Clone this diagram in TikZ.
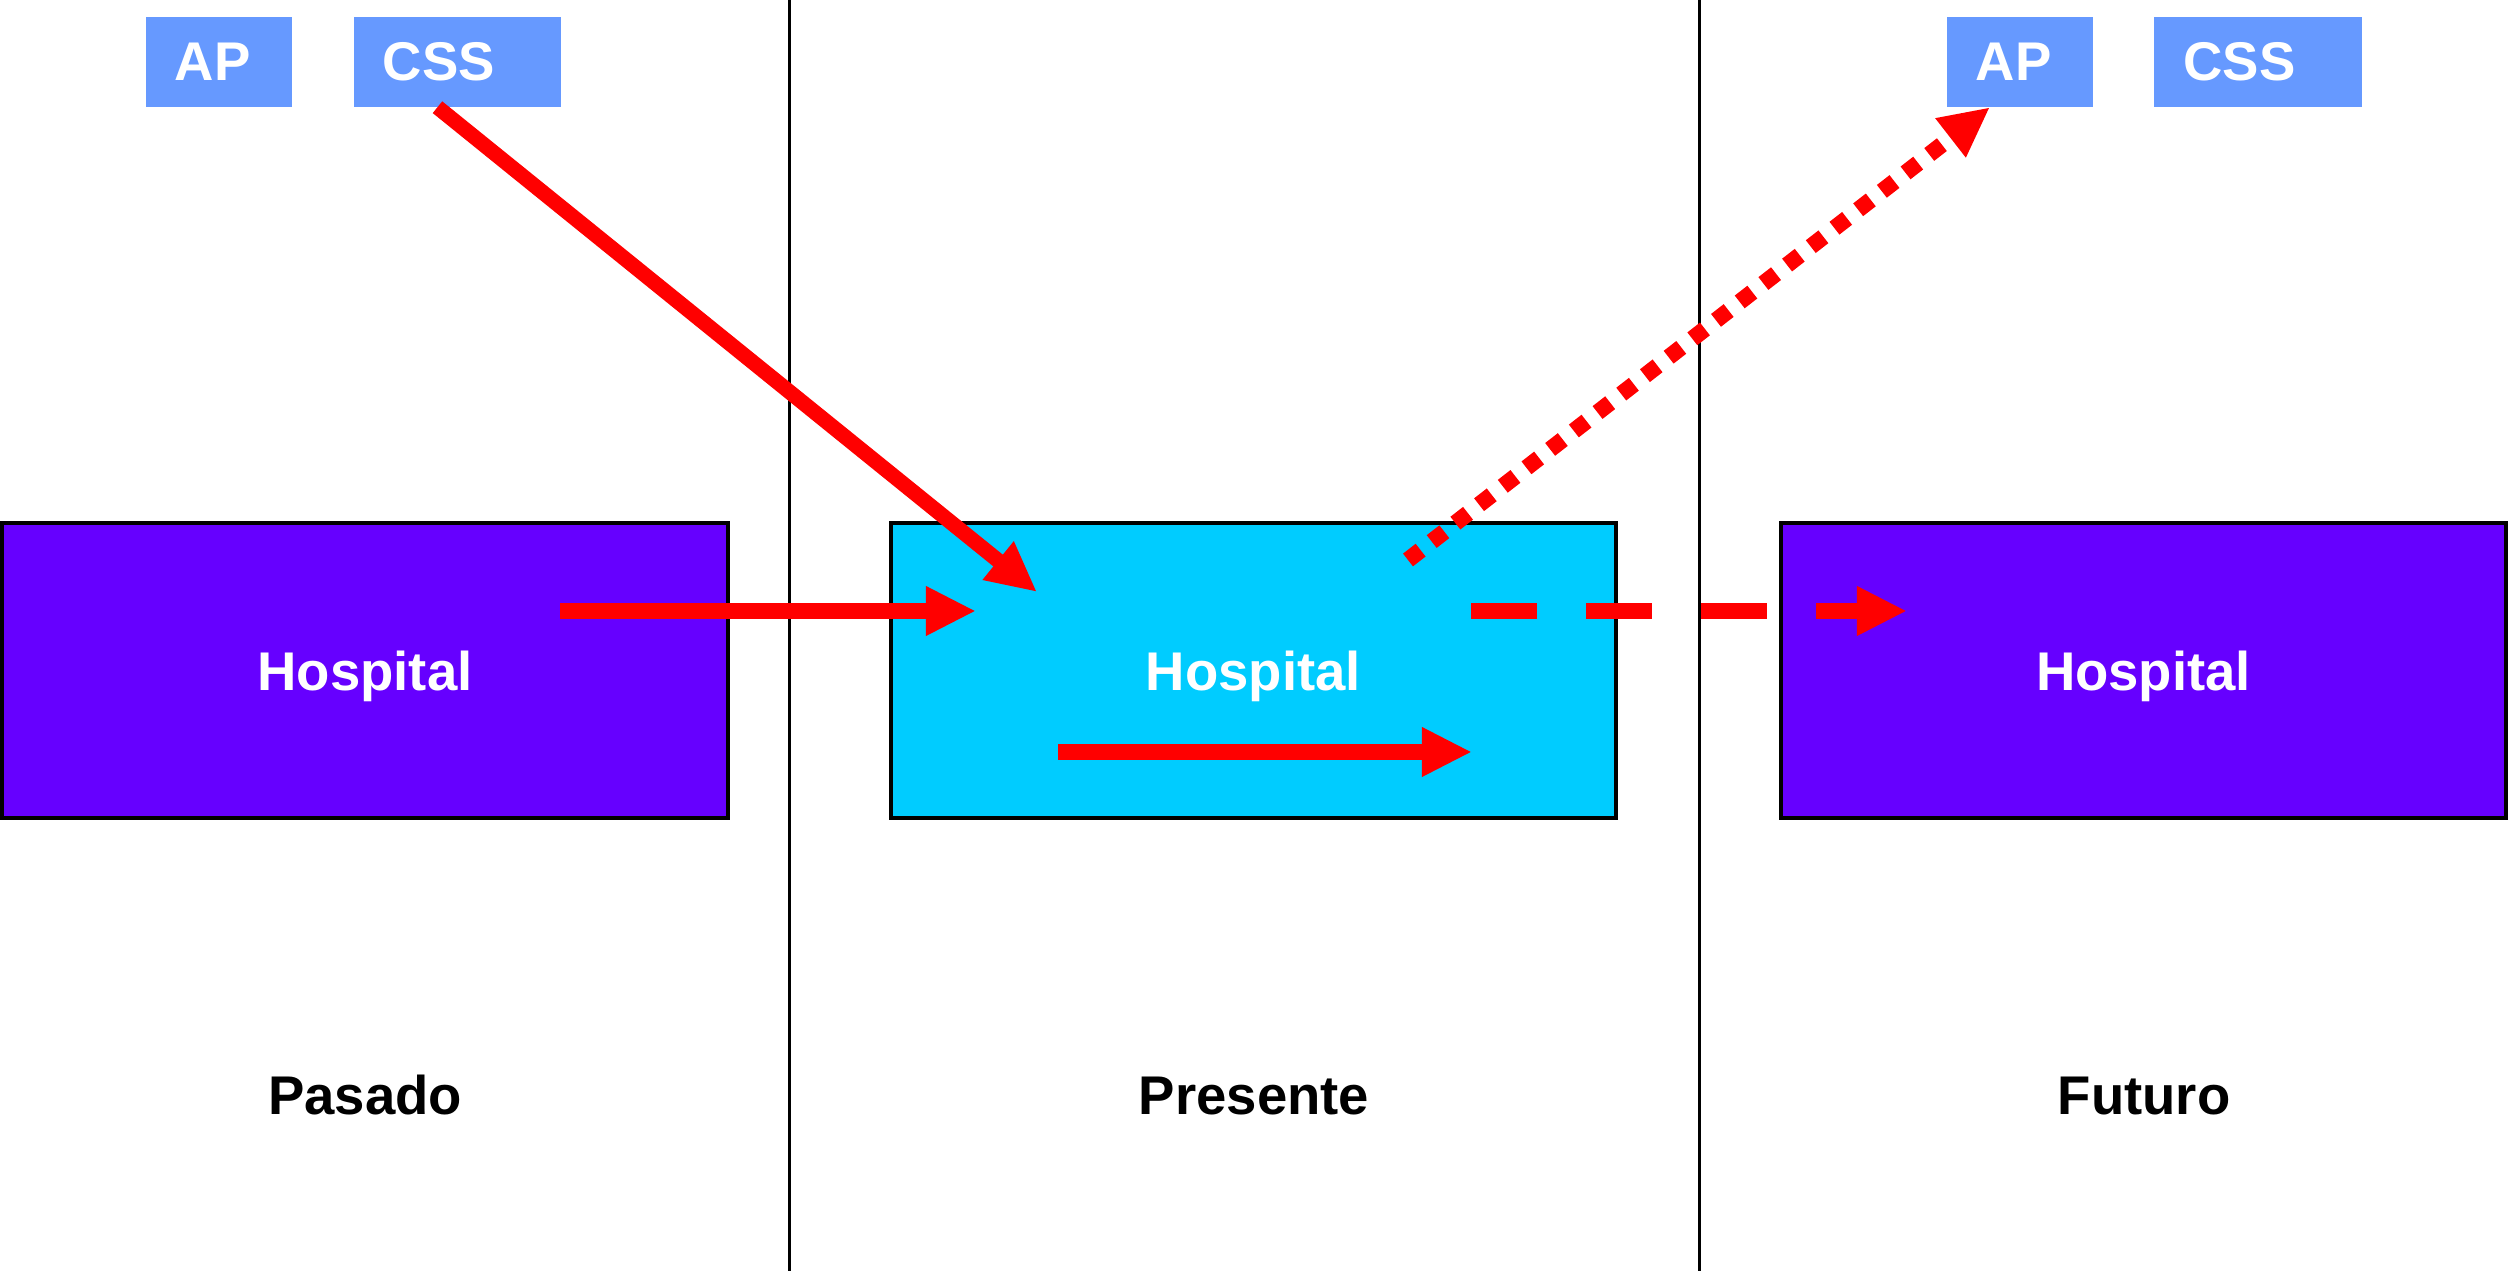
\documentclass[tikz,border=0pt]{standalone}
\usepackage{fontspec}
\setmainfont{Liberation Sans}
\usepackage{tikz}
\usetikzlibrary{arrows.meta}
\definecolor{HospPurple}{RGB}{102,0,255}
\definecolor{HospCyan}{RGB}{0,204,255}
\definecolor{TabBlue}{RGB}{102,153,255}
\definecolor{ArrowRed}{RGB}{255,0,0}
\newcommand\hospfont{\bfseries\fontsize{15.5pt}{18pt}\selectfont}

\begin{document}
\begin{tikzpicture}[x=0.01cm,y=-0.01cm,hosp/.style={fill=#1,draw=black,line width=1.1pt,minimum width=7.25cm,minimum height=2.95cm,text depth=0pt,text=white,font=\hospfont},tab/.style={fill=TabBlue,text=white,font=\hospfont,text width=#1,align=left,inner xsep=0.29cm,inner ysep=0pt,minimum height=0.89cm},period/.style={font=\hospfont,anchor=base},divider/.style={black,line width=0.85pt},flowarrow/.style={ArrowRed,line width=4.3pt,-{Triangle[length=0.5cm,width=0.46cm]}}]
\useasboundingbox (0,0) rectangle (2508,1271);
\draw[divider] (789,0) -- (789,1271);
\draw[divider] (1699,0) -- (1699,1271);
\foreach \n/\x/\c in %
{hospP/365/HospPurple,hospN/1253.5/HospCyan,hospF/2143.5/HospPurple} {
   \node[hosp=\c] (\n) at (\x,670.5) {Hospital};
}
\foreach \n/\x/\t in %
{lblP/365/Pasado,lblN/1254/Presente,lblF/2144/Futuro} {
   \node[period] (\n) at (\x,1115) {\t};
}
   \node[tab=0.88cm] (apP) at (219,62) {AP};
   \node[tab=1.49cm] (cssP) at (457.5,62) {CSS};
   \node[tab=0.88cm] (apF) at (2020,62) {AP};
   \node[tab=1.49cm] (cssF) at (2258,62) {CSS};
   \coordinate (nTop) at (1037,592);
   \coordinate (pOut) at (560,611);
   \coordinate (nIn) at (976,611);
   \coordinate (nFrom) at (1058,752);
   \coordinate (nTo) at (1472,752);
   \coordinate (nDash) at (1471,611);
   \coordinate (fIn) at (1907,611);
   \coordinate (nDot) at (1408,560);
   \draw[flowarrow] ([xshift=-0.2cm]cssP.south) -- (nTop);
   \draw[flowarrow] (pOut) -- (nIn);
   \draw[flowarrow] (nFrom) -- (nTo);
   \draw[flowarrow,dash pattern=on 0.66cm off 0.49cm] (nDash) -- (fIn);
   \draw[flowarrow,line width=4.6pt,dash pattern=on 0.16cm off 0.14cm] (nDot) -- ([xshift=-0.3cm]apF.south);
\end{tikzpicture}
\end{document}
